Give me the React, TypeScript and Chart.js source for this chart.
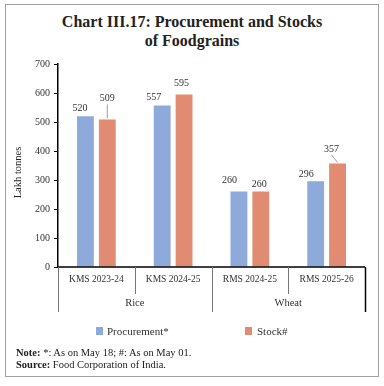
import React, { useEffect, useRef } from "react";
import { Chart, registerables } from "chart.js";

Chart.register(...registerables);

const categories = ["KMS 2023-24", "KMS 2024-25", "RMS 2024-25", "RMS 2025-26"];
const groupLabels = ["Rice", "Wheat"];
const groupSizes = [2, 2];
const procurement = [520, 557, 260, 296];
const stock = [509, 595, 260, 357];
const yMin = 0;
const yMax = 700;
const yStep = 100;

// label placement style (dx, dy relative to bar centre/top), leader flag
const labelStyle = [
  [
    [-5.5, -8, 0],
    [-8.5, -8, 0],
    [-9.5, -11, 0],
    [-9.5, -7, 0],
  ],
  [
    [0, -21, 1],
    [-2.5, -11, 0],
    [-1.5, -7, 0],
    [-6, -14.5, 1],
  ],
];

const FONT = "'Liberation Serif', 'Times New Roman', serif";
const BLUE = "#8eaadb";
const SALMON = "#e08b72";

const customPlugin = {
  id: "custom",
  afterDraw(chart: any) {
    const { ctx, chartArea } = chart;
    const xs = chart.scales.x;
    const n = categories.length;
    const cw = (chartArea.right - chartArea.left) / n;
    const bottom = chartArea.bottom;
    ctx.save();
    // x axis line
    ctx.strokeStyle = "#000";
    ctx.lineWidth = 1.5;
    ctx.beginPath();
    ctx.moveTo(chartArea.left, bottom);
    ctx.lineTo(chartArea.right, bottom);
    ctx.stroke();

    // separators
    const groupBounds = new Set<number>();
    let acc = 0;
    groupBounds.add(0);
    groupSizes.forEach((s) => {
      acc += s;
      groupBounds.add(acc);
    });
    for (let i = 0; i <= n; i++) {
      const x = Math.round(chartArea.left + i * cw) + 0.5;
      const isGroup = groupBounds.has(i);
      ctx.strokeStyle = i === n ? "#000" : "#777";
      ctx.lineWidth = i === n ? 1.5 : 1;
      ctx.beginPath();
      ctx.moveTo(x, bottom);
      ctx.lineTo(x, bottom + (isGroup ? 45 : 27));
      ctx.stroke();
    }

    // category labels
    ctx.fillStyle = "#333";
    ctx.font = `9.5px ${FONT}`;
    ctx.textAlign = "center";
    ctx.textBaseline = "middle";
    categories.forEach((c, i) => {
      ctx.fillText(c, xs.getPixelForValue(i), bottom + 12.5);
    });
    // group labels
    ctx.font = `10.5px ${FONT}`;
    let start = 0;
    groupLabels.forEach((g, gi) => {
      const x0 = chartArea.left + start * cw;
      const x1 = chartArea.left + (start + groupSizes[gi]) * cw;
      ctx.fillText(g, (x0 + x1) / 2, bottom + 36);
      start += groupSizes[gi];
    });

    // y title
    ctx.save();
    ctx.translate(18.5, (chartArea.top + chartArea.bottom) / 2 + 7);
    ctx.rotate(-Math.PI / 2);
    ctx.font = `10.5px ${FONT}`;
    ctx.fillStyle = "#222";
    ctx.fillText("Lakh tonnes", 0, 0);
    ctx.restore();

    // data labels
    ctx.font = `10px ${FONT}`;
    ctx.fillStyle = "#333";
    chart.data.datasets.forEach((ds: any, di: number) => {
      const meta = chart.getDatasetMeta(di);
      meta.data.forEach((bar: any, i: number) => {
        const [dx, dy, leader] = labelStyle[di][i];
        const lx = bar.x + dx;
        const ly = bar.y + dy;
        ctx.fillText(String(ds.data[i]), lx, ly);
        if (leader) {
          ctx.strokeStyle = "#888";
          ctx.lineWidth = 0.8;
          ctx.beginPath();
          ctx.moveTo(lx, ly + 6);
          ctx.lineTo(bar.x, bar.y - 1);
          ctx.stroke();
        }
      });
    });
    ctx.restore();
  },
};

function ChartCanvas() {
  const ref = useRef<HTMLCanvasElement>(null);
  useEffect(() => {
    if (!ref.current) return;
    const chart = new Chart(ref.current, {
      type: "bar",
      data: {
        labels: categories,
        datasets: [
          {
            label: "Procurement*",
            data: procurement,
            backgroundColor: BLUE,
            categoryPercentage: 0.57,
            barPercentage: 0.77,
          },
          {
            label: "Stock#",
            data: stock,
            backgroundColor: SALMON,
            categoryPercentage: 0.57,
            barPercentage: 0.77,
          },
        ],
      },
      options: {
        animation: false,
        responsive: false,
        maintainAspectRatio: false,
        layout: { padding: { top: 14, right: 19, bottom: 83, left: 0 } },
        plugins: {
          legend: { display: false },
          tooltip: { enabled: false },
        },
        scales: {
          x: { display: false },
          y: {
            min: yMin,
            max: yMax,
            afterFit: (scale: any) => {
              scale.width = 58;
            },
            border: { color: "#000", width: 1.5 },
            grid: {
              drawOnChartArea: false,
              drawTicks: true,
              tickLength: 4,
              color: "#000",
            },
            ticks: {
              stepSize: yStep,
              padding: 4,
              color: "#333",
              font: { family: FONT, size: 10 },
            },
          },
        },
      },
      plugins: [customPlugin],
    });
    return () => chart.destroy();
  }, []);
  return (
    <canvas
      ref={ref}
      width={384}
      height={300}
      style={{ position: "absolute", left: 0, top: 50, width: 384, height: 300 }}
    />
  );
}

const legendText: React.CSSProperties = {
  position: "absolute",
  top: 324,
  fontSize: 11,
  lineHeight: "14px",
  color: "#333",
  fontFamily: FONT,
};

export default function App() {
  return (
    <div
      style={{
        position: "absolute",
        left: 0,
        top: 0,
        width: 384,
        height: 386,
        background: "#fff",
        fontFamily: FONT,
        overflow: "hidden",
      }}
    >
      <div
        style={{
          position: "absolute",
          left: 5,
          top: 4,
          width: 372,
          height: 371,
          border: "1.5px solid #a0a0a0",
        }}
      />
      <div
        style={{
          position: "absolute",
          left: 0,
          top: 12,
          width: 384,
          textAlign: "center",
          fontWeight: "bold",
          fontSize: 16,
          lineHeight: "19px",
          color: "#222",
        }}
      >
        Chart III.17: Procurement and Stocks
        <br />
        of Foodgrains
      </div>
      <ChartCanvas />
      <div
        style={{
          position: "absolute",
          top: 327,
          left: 96,
          width: 7,
          height: 8,
          background: BLUE,
        }}
      />
      <div style={{ ...legendText, left: 107 }}>Procurement*</div>
      <div
        style={{
          position: "absolute",
          top: 327,
          left: 245,
          width: 7,
          height: 8,
          background: SALMON,
        }}
      />
      <div style={{ ...legendText, left: 257 }}>Stock#</div>
      <div
        style={{
          position: "absolute",
          top: 347,
          left: 16,
          fontSize: 10.5,
          lineHeight: "12px",
          color: "#222",
        }}
      >
        <b>Note:</b> *: As on May 18; #: As on May 01.
        <br />
        <b>Source:</b> Food Corporation of India.
      </div>
    </div>
  );
}
